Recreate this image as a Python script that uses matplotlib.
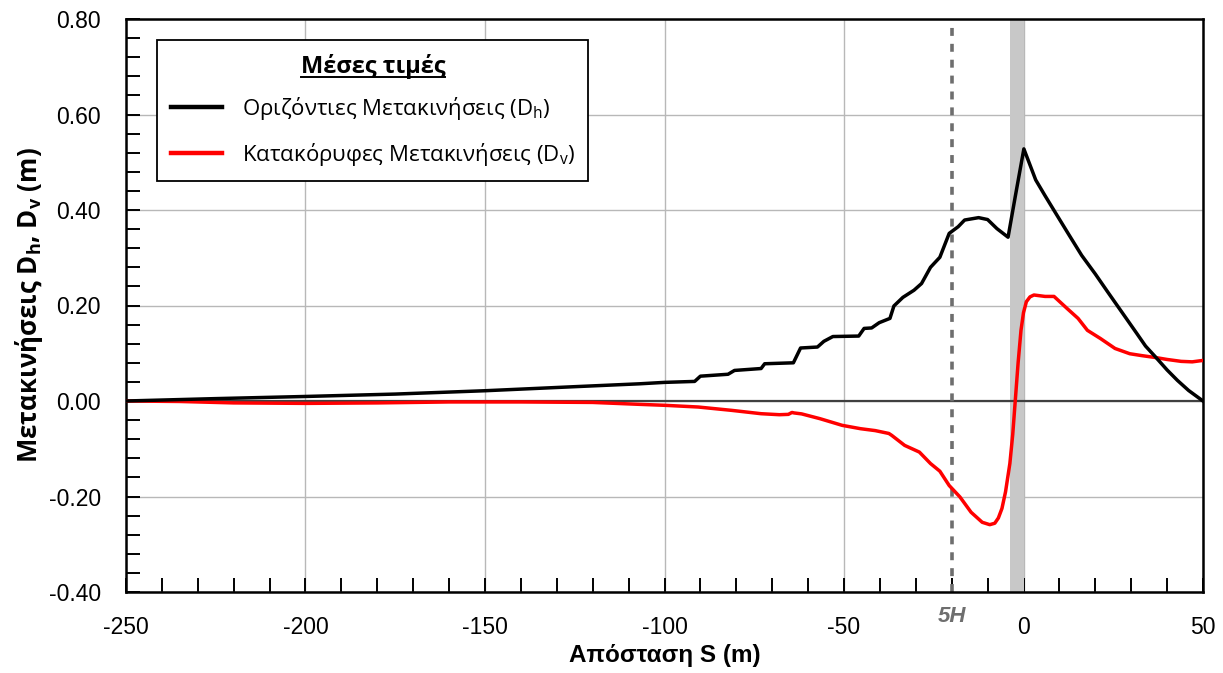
import matplotlib
matplotlib.use("Agg")
import matplotlib.pyplot as plt
from matplotlib.ticker import MultipleLocator, FormatStrFormatter
from matplotlib.lines import Line2D

# ---- data ----
dh_x = [-250, -225, -200, -175, -150, -125, -107, -100, -91.6, -90.0, -82.3, -80.5,
        -73.1, -72.1, -64.1, -62.1, -57.4, -55.6, -53.1, -45.9, -44.4, -42.3, -40.2,
        -37.2, -36.1, -33.6, -30.5, -28.4, -25.9, -23.3, -20.7, -18.2, -16.4, -12.5,
        -10.0, -7.4, -4.3, -2.3, 0.1, 3.4, 6.0, 9.0, 12.5, 16.2, 20, 23.4, 27.5, 31.6,
        34, 36.8, 40, 42.9, 46, 50]
dh_y = [0, 0.005, 0.0095, 0.0145, 0.0215, 0.030, 0.036, 0.039, 0.041, 0.052, 0.056,
        0.064, 0.068, 0.078, 0.080, 0.111, 0.113, 0.125, 0.135, 0.136, 0.152, 0.153,
        0.164, 0.173, 0.199, 0.217, 0.232, 0.246, 0.280, 0.301, 0.351, 0.365, 0.379,
        0.384, 0.380, 0.361, 0.343, 0.428, 0.528, 0.463, 0.43, 0.393, 0.35, 0.305,
        0.266, 0.229, 0.185, 0.141, 0.115, 0.092, 0.065, 0.043, 0.022, 0]

dv_x = [-250, -235, -220, -200, -180, -160, -140, -120, -107, -100, -90.6, -81.3,
        -73.1, -68, -65.5, -64.5, -63.9, -61.8, -56.7, -50.5, -45.4, -41.3, -37.5,
        -36.7, -33.1, -29, -25.9, -23.3, -20.7, -17.7, -14.6, -11.5, -9.4, -8.0, -7.0,
        -6.0, -5.0, -3.8, -3.0, -2.3, -1.5, -0.7, 0.0, 0.8, 1.8, 2.9, 6.0, 8.5, 12.1,
        15.2, 17.8, 21.4, 25.5, 29.6, 33, 36.8, 40, 43.9, 47, 50]
dv_y = [0, -0.001, -0.004, -0.005, -0.004, -0.002, -0.002, -0.003, -0.007, -0.009,
        -0.0126, -0.0196, -0.0266, -0.0287, -0.028, -0.024, -0.025, -0.027, -0.037,
        -0.051, -0.058, -0.062, -0.068, -0.072, -0.093, -0.107, -0.131, -0.147, -0.177,
        -0.201, -0.233, -0.254, -0.259, -0.256, -0.245, -0.225, -0.19, -0.131, -0.07,
        0.0, 0.08, 0.148, 0.185, 0.208, 0.218, 0.222, 0.219, 0.219, 0.194, 0.173, 0.148,
        0.131, 0.110, 0.099, 0.095, 0.091, 0.087, 0.083, 0.082, 0.085]

x_ticks = [-250, -200, -150, -100, -50, 0, 50]
y_ticks = [-0.40, -0.20, 0.00, 0.20, 0.40, 0.60, 0.80]
line5H_x = -20
band_range = (-3.75, 0)

label_dh = r"Οριζόντιες Μετακινήσεις (D$\mathregular{_h}$)"
label_dv = r"Κατακόρυφες Μετακινήσεις (D$\mathregular{_v}$)"
legend_title = "Μέσες τιμές"
xlabel = "Απόσταση S (m)"
ylabel = r"Μετακινήσεις D$\mathbf{_h}$, D$\mathbf{_v}$ (m)"

# ---- style ----
plt.rcParams['font.family'] = ['Open Sans', 'DejaVu Sans']
plt.rcParams['axes.unicode_minus'] = False
plt.rcParams['mathtext.fontset'] = 'custom'
plt.rcParams['mathtext.rm'] = 'Open Sans'
plt.rcParams['mathtext.bf'] = 'Open Sans:bold'
plt.rcParams['mathtext.it'] = 'Open Sans:italic'

ARIAL = ['Liberation Sans', 'DejaVu Sans']

fig = plt.figure(figsize=(12.23, 6.73), dpi=100)
ax = fig.add_axes([126/1223, 1-592/673, (1203-126)/1223, (592-19)/673])

ax.axvspan(band_range[0], band_range[1], color='#c8c8c8', lw=0, zorder=1)
ax.grid(True, which='major', color='#b8b8b8', lw=1.0, zorder=0)
ax.set_axisbelow(True)
ax.axhline(0, color='#404040', lw=1.6, zorder=2)
ax.axvline(line5H_x, color='#6e6e6e', lw=2.6, ls=(0, (2.2, 2.2)), zorder=2)

ax.plot(dh_x, dh_y, color='black', lw=2.5, zorder=4, label=label_dh,
        solid_joinstyle='round')
ax.plot(dv_x, dv_y, color='#ff0000', lw=2.5, zorder=3, label=label_dv,
        solid_joinstyle='round')

ax.set_xlim(-250, 50)
ax.set_ylim(-0.40, 0.80)
ax.set_xticks(x_ticks)
ax.set_yticks(y_ticks)
ax.xaxis.set_minor_locator(MultipleLocator(10))
ax.yaxis.set_minor_locator(MultipleLocator(0.04))
ax.yaxis.set_major_formatter(FormatStrFormatter('%.2f'))
ax.tick_params(which='both', direction='in', length=10, width=1.4, color='black',
               top=False, right=False)
ax.tick_params(which='major', labelsize=16.5)
ax.tick_params(axis='x', which='major', pad=17)
ax.tick_params(axis='y', which='major', pad=18)
for lab in ax.get_xticklabels() + ax.get_yticklabels():
    lab.set_fontfamily(ARIAL)

for s in ax.spines.values():
    s.set_linewidth(1.8)
    s.set_color('black')

ax.set_xlabel(xlabel, fontsize=17.5, fontweight='bold', labelpad=4, family=ARIAL)
ax.set_ylabel(ylabel, fontsize=18.5, fontweight='bold', labelpad=3)

ax.text(line5H_x, -0.042, "5H", transform=ax.get_xaxis_transform(), ha='center',
        va='center', fontsize=16, fontweight='bold', fontstyle='italic',
        color='#6e6e6e', family=ARIAL)

leg = ax.legend(loc='upper left', bbox_to_anchor=(0.029, 0.963), borderaxespad=0,
                fancybox=False, edgecolor='black', framealpha=1, fontsize=16,
                title=legend_title, handlelength=2.3, handletextpad=0.9,
                labelspacing=0.85, borderpad=0.6)
leg.get_frame().set_linewidth(1.3)
leg.get_title().set_fontsize(17)
leg.get_title().set_fontweight('bold')
leg._legend_box.sep = 12
for h in leg.legend_handles:
    h.set_linewidth(3.2)
leg.set_zorder(10)

fig.canvas.draw()
tb = leg.get_title().get_window_extent(fig.canvas.get_renderer())
inv = fig.transFigure.inverted()
(x0, y0), (x1, y1) = inv.transform([(tb.x0, tb.y0), (tb.x1, tb.y1)])
fig.add_artist(Line2D([x0, x1], [y0 + 0.003, y0 + 0.003], transform=fig.transFigure,
                      color='black', lw=1.4, zorder=11))

fig.savefig("out.png", dpi=100)
